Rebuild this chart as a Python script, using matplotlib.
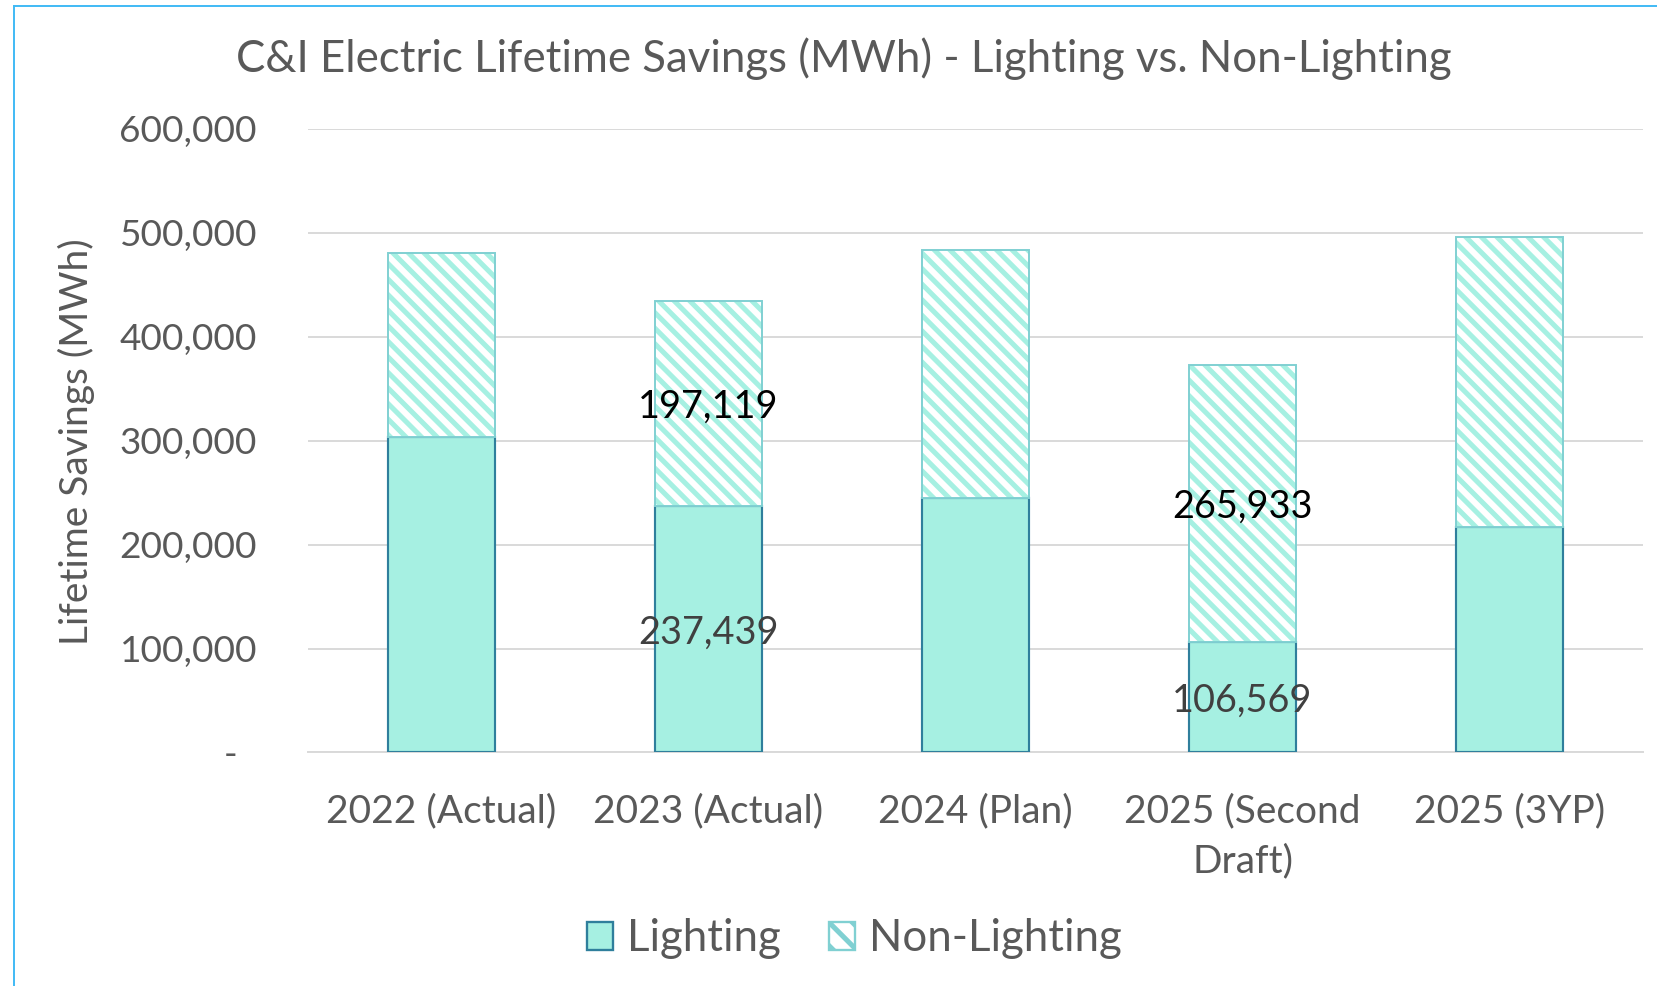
import matplotlib
matplotlib.use("Agg")
from matplotlib import pyplot as plt
from matplotlib.patches import Patch
from matplotlib.lines import Line2D
from matplotlib.ticker import FuncFormatter
import numpy as np

# Chart data
categories = ["2022 (Actual)", "2023 (Actual)", "2024 (Plan)", "2025 (Second\nDraft)", "2025 (3YP)"]
lighting = [304000, 237439, 245000, 106569, 217000]
non_lighting = [177000, 197119, 239000, 265933, 279000]
show_labels = [False, True, False, True, False]
y_ticks = [0, 100000, 200000, 300000, 400000, 500000, 600000]

LIGHT_FILL = "#A6F0E2"
LIGHT_EDGE = "#2F7F9C"
NON_EDGE = "#80D0D2"
HATCH = "#A6F0E2"
TEXT = "#595959"
GRID = "#D9D9D9"

DPI = 140
plt.rcParams["font.family"] = ["Lato", "DejaVu Sans"]
plt.rcParams["hatch.linewidth"] = 2.6

fig = plt.figure(figsize=(1657 / DPI, 986 / DPI), dpi=DPI)
ax = fig.add_axes([0.1856, 0.2369, 0.8061, 0.6323])

x = np.arange(len(categories))
width = 0.4

# Lighting bars
ax.bar(x, lighting, width, color=LIGHT_FILL, edgecolor=LIGHT_EDGE, linewidth=1.1, zorder=3)
# Non-lighting: hatch pass, then border pass
ax.bar(x, non_lighting, width, bottom=lighting, color="white", edgecolor=HATCH,
       linewidth=0, hatch="\\\\\\", zorder=3)
ax.bar(x, non_lighting, width, bottom=lighting, fill=False, edgecolor=NON_EDGE,
       linewidth=1.0, zorder=4)

# Data labels
for i in range(len(categories)):
    if show_labels[i]:
        ax.text(x[i], lighting[i] / 2, f"{lighting[i]:,}", ha="center", va="center_baseline",
                fontsize=19.5, color="#404040", zorder=5)
        ax.text(x[i], lighting[i] + non_lighting[i] / 2, f"{non_lighting[i]:,}", ha="center",
                va="center_baseline", fontsize=19.5, color="black", zorder=5)

ax.set_xlim(-0.5, len(categories) - 0.5)
ax.set_ylim(0, 600000)
ax.set_yticks(y_ticks)
ax.yaxis.set_major_formatter(FuncFormatter(lambda v, p: "-  " if v == 0 else f"{int(v):,}"))
ax.set_xticks(x)
ax.set_xticklabels(categories, linespacing=1.5)
ax.tick_params(axis="y", length=0, pad=26, labelsize=19, labelcolor=TEXT)
ax.tick_params(axis="x", length=0, pad=21, labelsize=20, labelcolor=TEXT)

ax.grid(axis="y", color=GRID, linewidth=1.0, zorder=0)
for s in ["top", "right", "left"]:
    ax.spines[s].set_visible(False)
ax.spines["bottom"].set_color(GRID)
ax.spines["bottom"].set_linewidth(1.0)

fig.text(0.509, 0.941, "C&I Electric Lifetime Savings (MWh) - Lighting vs. Non-Lighting",
         ha="center", va="center", fontsize=22.5, color=TEXT)
fig.text(0.046, 0.552, "Lifetime Savings (MWh)", rotation=90, ha="center", va="center",
         fontsize=20, color=TEXT)

handles = [Patch(facecolor=LIGHT_FILL, edgecolor=LIGHT_EDGE, linewidth=1.2),
           Patch(facecolor="white", edgecolor=NON_EDGE, linewidth=1.2, hatch="\\\\")]
fig.legend(handles, ["Lighting", "Non-Lighting"], loc="center", bbox_to_anchor=(0.5155, 0.048),
           ncol=2, frameon=False, fontsize=22.5, labelcolor=TEXT, handlelength=0.6,
           handleheight=0.6, handletextpad=0.31, columnspacing=1.1)

# Chart border (left and top edges visible)
fig.add_artist(Line2D([14 / 1657, 14 / 1657], [0, 1 - 6 / 986], color="#40BAF5", linewidth=1.0))
fig.add_artist(Line2D([14 / 1657, 1], [1 - 6 / 986, 1 - 6 / 986], color="#40BAF5", linewidth=1.0))

fig.savefig("out.png", dpi=DPI)
